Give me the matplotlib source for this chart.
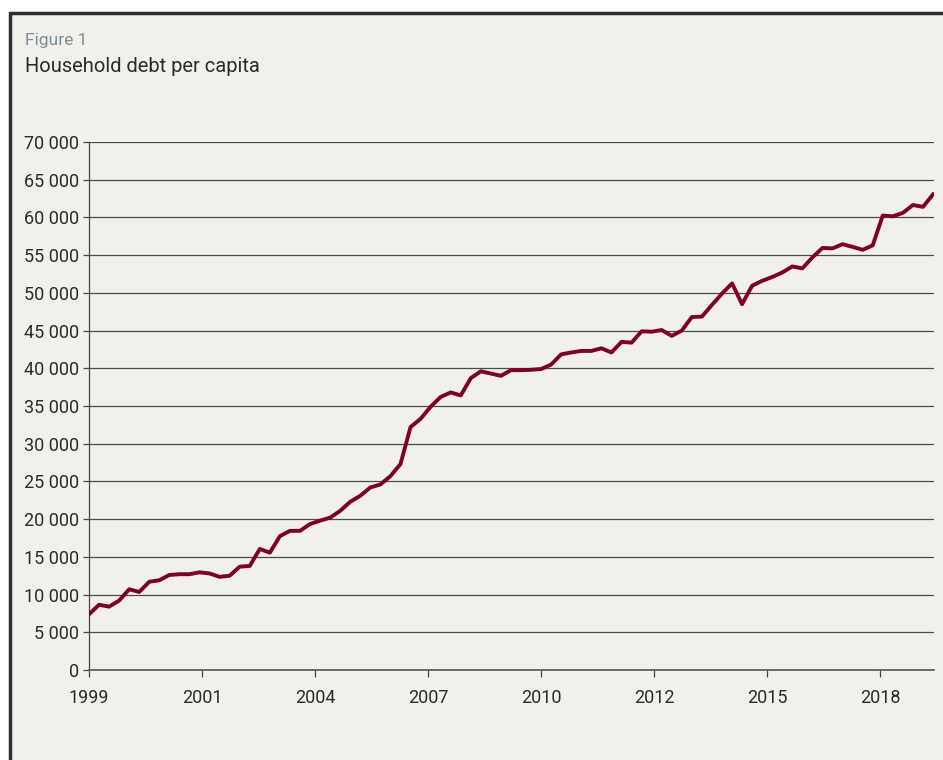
import numpy as np
import matplotlib
matplotlib.use("Agg")
import matplotlib.pyplot as plt
from matplotlib.patches import Rectangle
from matplotlib.ticker import FuncFormatter

# household debt per capita, quarterly from 1999
debt = [
    7380, 8650, 8400, 9200, 10700, 10350, 11700, 11900, 12600, 12700,
    12700, 12950, 12800, 12350, 12500, 13700, 13800, 16050, 15550, 17750,
    18450, 18450, 19350, 19800, 20200, 21100, 22300, 23100, 24200, 24600,
    25700, 27300, 32200, 33300, 34900, 36200, 36800, 36400, 38700, 39600,
    39300, 39000, 39750, 39750, 39800, 39900, 40500, 41850, 42100, 42300,
    42300, 42650, 42100, 43500, 43400, 44900, 44850, 45070, 44300, 45000,
    46800, 46850, 48400, 49900, 51250, 48500, 50950, 51600, 52100, 52700,
    53500, 53250, 54700, 55950, 55900, 56450, 56100, 55700, 56300, 60250,
    60150, 60600, 61650, 61400, 63050,
]
year_labels = ["1999", "2001", "2004", "2007", "2010", "2012", "2015", "2018"]
y_ticks = list(range(0, 70001, 5000))

plt.rcParams['font.family'] = ['Roboto', 'DejaVu Sans']

fig = plt.figure(figsize=(9.43, 7.6), dpi=100)
fig.patch.set_facecolor('white')

# panel background with dark frame (runs off the right and bottom edge)
panel = Rectangle((10 / 943, -0.05), 1.1, 1 - 13 / 760 + 0.05,
                  transform=fig.transFigure, facecolor='#f2f0ea',
                  edgecolor='#2e2e2e', linewidth=2.5, zorder=-5)
fig.patches.append(panel)

fig.text(25 / 943, 1 - 40 / 760, "Figure 1", fontsize=12.5, color='#7d8c96',
         va='center', ha='left')
fig.text(25 / 943, 1 - 66 / 760, "Household debt per capita", fontsize=14.5,
         color='#2b2b2b', va='center', ha='left')

ax = fig.add_axes([89 / 943, 90 / 760, (934 - 89) / 943, (670 - 142) / 760])
ax.set_facecolor('none')

x = np.arange(len(debt))
ax.plot(x, debt, color='#7c0028', linewidth=2.8, solid_joinstyle='round', zorder=3)

ax.set_ylim(0, 70000)
ax.set_xlim(0, len(debt) - 1 + 0.1)
ax.set_yticks(y_ticks)
ax.yaxis.set_major_formatter(FuncFormatter(lambda v, p: f"{int(v):,}".replace(",", " ")))
ax.set_xticks(np.arange(len(year_labels)) * 11.25)
ax.set_xticklabels(year_labels)

ax.grid(axis='y', color='#4a4a4a', linewidth=0.9, zorder=1)
ax.set_axisbelow(True)
for s in ['top', 'right']:
    ax.spines[s].set_visible(False)
ax.spines['left'].set_color('#444444')
ax.spines['bottom'].set_color('#555555')
ax.spines['left'].set_linewidth(0.9)
ax.spines['bottom'].set_linewidth(1.2)

ax.tick_params(axis='y', length=4, width=0.9, color='#444444', pad=3,
               labelsize=13, labelcolor='#2b2b2b')
ax.tick_params(axis='x', length=5, width=0.9, color='#444444', pad=9,
               labelsize=13, labelcolor='#2b2b2b')

fig.savefig('out.png', dpi=100, facecolor=fig.get_facecolor())
